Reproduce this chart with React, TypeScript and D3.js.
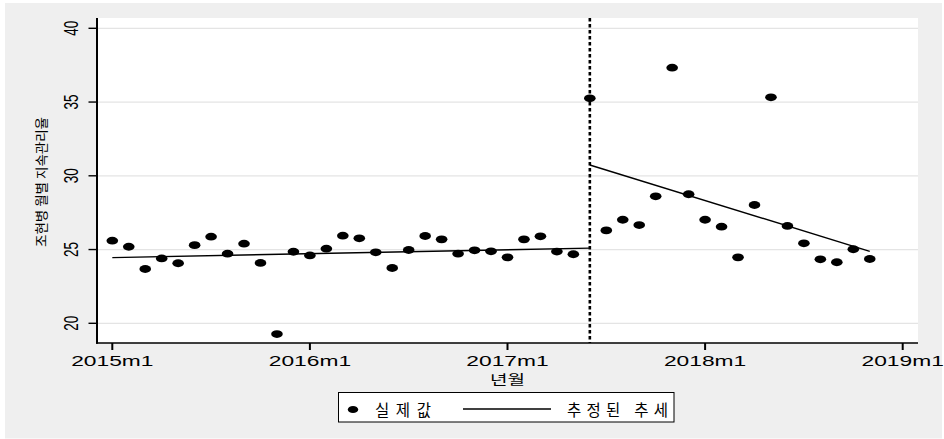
import React from "react";
import * as d3 from "d3";

// Monthly index: 0 = 2015m1
const observed = [
  25.6, 25.19, 23.68, 24.4, 24.07, 25.3, 25.87, 24.72, 25.4, 24.09,
  19.27, 24.85, 24.6, 25.06, 25.94, 25.76, 24.81, 23.75, 24.97, 25.92,
  25.69, 24.72, 24.95, 24.88, 24.47, 25.69, 25.9, 24.86, 24.68, 35.25,
  26.3, 27.02, 26.66, 28.61, 37.33, 28.75, 27.02, 26.55, 24.47, 28.02,
  35.32, 26.6, 25.42, 24.34, 24.14, 25.02, 24.36,
];
const interventionMonth = 29;
const preTrendMonths = [0, 29];
const preTrendValues = [24.45, 25.1];
const postTrendMonths = [29, 46];
const postTrendValues = [30.73, 24.88];

const xTickMonths = [0, 12, 24, 36, 48];
const xTickLabels = ["2015m1", "2016m1", "2017m1", "2018m1", "2019m1"];
const yTicks = [20, 25, 30, 35, 40];

const yTitle = "조현병 월별 지속관리율";
const xTitle = "년월";
const legendObserved = "실제값";
const legendTrend = "추정된 추세";

const W = 944;
const H = 439;
const plot = { left: 97, right: 918, top: 18, bottom: 343 };
const SX = 1.52; // horizontal stretch of glyphs and markers
const LATIN = "'Liberation Sans', Arial, sans-serif";
const KR = "'Noto Sans CJK KR', sans-serif";

export default function App() {
  const x = d3.scaleLinear().domain([0, 48]).range([112.3, 902.7]);
  const y = d3.scaleLinear().domain([20, 40]).range([323.3, 28.3]);

  const line = d3
    .line<[number, number]>()
    .x((d) => x(d[0]))
    .y((d) => y(d[1]));

  const pre = preTrendMonths.map((m, i) => [m, preTrendValues[i]] as [number, number]);
  const post = postTrendMonths.map((m, i) => [m, postTrendValues[i]] as [number, number]);

  return (
    <div style={{ position: "fixed", left: 0, top: 0 }}>
      <svg width={W} height={H} style={{ display: "block" }}>
        <rect x={0} y={0} width={W} height={H} fill="#ffffff" />
        <rect x={5} y={3} width={937} height={435.5} fill="#efefef" />
        <rect
          x={plot.left}
          y={plot.top}
          width={plot.right - plot.left}
          height={plot.bottom - plot.top}
          fill="#ffffff"
        />

        {/* horizontal gridlines */}
        {yTicks.map((v) => (
          <line
            key={"g" + v}
            x1={plot.left}
            x2={plot.right}
            y1={y(v)}
            y2={y(v)}
            stroke="#e4e4e4"
            strokeWidth={1.2}
          />
        ))}

        {/* intervention marker */}
        <line
          x1={x(interventionMonth)}
          x2={x(interventionMonth)}
          y1={plot.top}
          y2={plot.bottom}
          stroke="#000"
          strokeWidth={2.6}
          strokeDasharray="3.5,2.5"
        />

        {/* fitted trends */}
        <path d={line(pre) || ""} fill="none" stroke="#000" strokeWidth={1.4} />
        <path d={line(post) || ""} fill="none" stroke="#000" strokeWidth={1.4} />

        {/* observed points */}
        {observed.map((v, i) => (
          <ellipse key={"p" + i} cx={x(i)} cy={y(v)} rx={5.8} ry={3.9} fill="#000" />
        ))}

        {/* axes */}
        <line x1={plot.left} x2={plot.left} y1={plot.top} y2={plot.bottom + 0.7} stroke="#000" strokeWidth={2} />
        <line x1={plot.left - 1} x2={plot.right} y1={plot.bottom} y2={plot.bottom} stroke="#000" strokeWidth={1.4} />

        {yTicks.map((v) => (
          <g key={"yt" + v}>
            <line x1={plot.left - 8.5} x2={plot.left} y1={y(v)} y2={y(v)} stroke="#000" strokeWidth={1.4} />
            <text
              transform={`translate(77.5,${y(v)}) scale(${SX},1) rotate(-90)`}
              textAnchor="middle"
              fontFamily={LATIN}
              fontSize={13.5}
              fill="#000"
            >
              {v}
            </text>
          </g>
        ))}

        {xTickMonths.map((m, i) => (
          <g key={"xt" + m}>
            <line x1={x(m)} x2={x(m)} y1={plot.bottom} y2={plot.bottom + 7} stroke="#000" strokeWidth={2} />
            <text
              transform={`translate(${x(m)},365.5) scale(${SX},1)`}
              textAnchor="middle"
              fontFamily={LATIN}
              fontSize={15}
              fill="#000"
            >
              {xTickLabels[i]}
            </text>
          </g>
        ))}

        {/* axis titles */}
        <text
          transform={`translate(46,182) rotate(-90)`}
          textAnchor="middle"
          fontFamily={KR}
          fontSize={13}
          textLength={130}
          lengthAdjust="spacingAndGlyphs"
          fill="#000"
        >
          {yTitle}
        </text>
        <text
          x={(plot.left + plot.right) / 2}
          y={383.5}
          textAnchor="middle"
          fontFamily={KR}
          fontSize={13}
          textLength={35}
          lengthAdjust="spacingAndGlyphs"
          fill="#000"
        >
          {xTitle}
        </text>

        {/* legend */}
        <rect x={338.5} y={392.5} width={335.5} height={29.5} fill="#fff" stroke="#000" strokeWidth={1} />
        <ellipse cx={353} cy={409.5} rx={5.2} ry={3.6} fill="#000" />
        <text x={375} y={416} fontFamily={KR} fontSize={15.5} textLength={56} lengthAdjust="spacing" fill="#000">
          {legendObserved}
        </text>
        <line x1={463} x2={551} y1={409} y2={409} stroke="#000" strokeWidth={1.4} />
        <text x={567} y={416} fontFamily={KR} fontSize={15.5} textLength={101} lengthAdjust="spacing" fill="#000">
          {legendTrend}
        </text>
      </svg>
    </div>
  );
}
